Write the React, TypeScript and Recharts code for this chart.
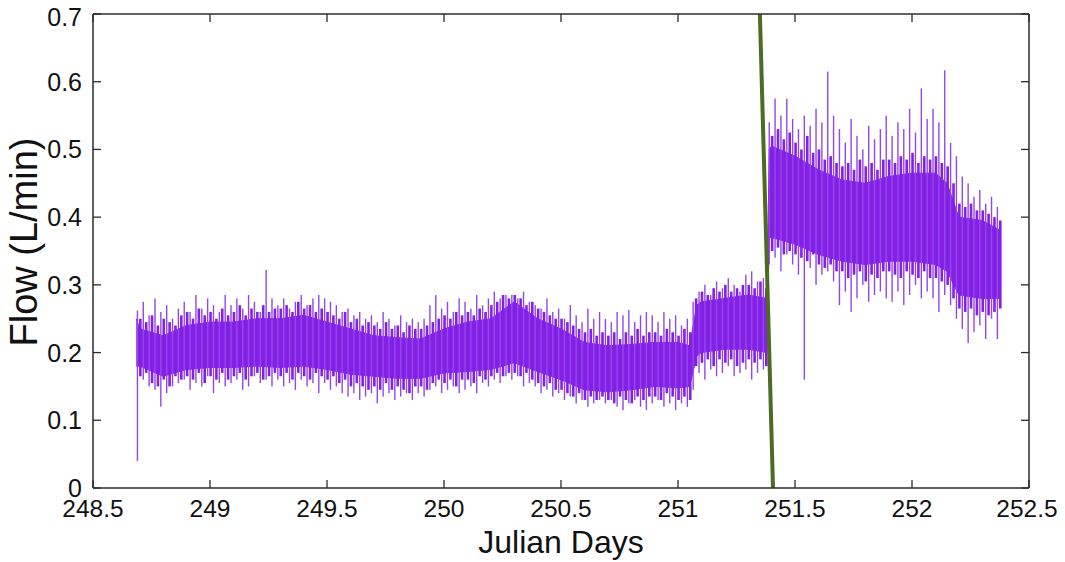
import React from 'react'
import {
  ComposedChart,
  Area,
  Bar,
  XAxis,
  YAxis,
  ReferenceLine,
} from 'recharts'

// x ticks (Julian days) and y ticks (flow, L/min)
const DAY_TICKS = [248.5, 249, 249.5, 250, 250.5, 251, 251.5, 252, 252.5]
const FLOW_TICKS = [0, 0.1, 0.2, 0.3, 0.4, 0.5, 0.6, 0.7]

// dense core band of the flow record
const coreDays = [
  248.685, 248.7, 248.8, 248.9, 249.0, 249.1, 249.2, 249.3, 249.4, 249.5,
  249.6, 249.7, 249.8, 249.9, 250.0, 250.1, 250.2, 250.3, 250.4, 250.5,
  250.6, 250.7, 250.8, 250.9, 251.0, 251.05, 251.08, 251.1, 251.2, 251.3,
  251.38, 251.39, 251.4, 251.5, 251.6, 251.7, 251.8, 251.9, 252.0, 252.1,
  252.15, 252.2, 252.3, 252.38,
]
const coreLow = [
  0.18, 0.18, 0.165, 0.175, 0.178, 0.178, 0.18, 0.178, 0.18, 0.175,
  0.168, 0.165, 0.162, 0.162, 0.17, 0.172, 0.175, 0.185, 0.172, 0.16,
  0.145, 0.142, 0.145, 0.15, 0.148, 0.15, 0.195, 0.2, 0.205, 0.205,
  0.2, 0.37, 0.37, 0.36, 0.345, 0.335, 0.33, 0.335, 0.335, 0.33,
  0.32, 0.285, 0.28, 0.28,
]
const coreHigh = [
  0.25, 0.235, 0.225, 0.24, 0.245, 0.245, 0.25, 0.25, 0.255, 0.245,
  0.235, 0.225, 0.222, 0.22, 0.235, 0.245, 0.25, 0.275, 0.25, 0.235,
  0.215, 0.21, 0.212, 0.215, 0.215, 0.21, 0.27, 0.275, 0.28, 0.285,
  0.28, 0.5, 0.505, 0.49, 0.47, 0.455, 0.45, 0.46, 0.465, 0.465,
  0.45, 0.4, 0.395, 0.38,
]

// tall spikes: min / max of the samples in each 0.025 day slot
const SPIKE_START = 248.69
const SPIKE_STEP = 0.025
const spikeHigh = [
  0.262, 0.275, 0.255, 0.28, 0.26, 0.27, 0.25, 0.265,
  0.275, 0.26, 0.285, 0.265, 0.28, 0.27, 0.26, 0.285,
  0.27, 0.28, 0.265, 0.285, 0.275, 0.26, 0.322, 0.28,
  0.27, 0.28, 0.265, 0.275, 0.285, 0.27, 0.28, 0.285,
  0.28, 0.275, 0.27, 0.26, 0.265, 0.255, 0.26, 0.25,
  0.255, 0.245, 0.26, 0.25, 0.24, 0.255, 0.245, 0.25,
  0.245, 0.25, 0.27, 0.285, 0.265, 0.275, 0.26, 0.28,
  0.275, 0.265, 0.285, 0.27, 0.28, 0.29, 0.28, 0.285,
  0.285, 0.28, 0.29, 0.275, 0.27, 0.265, 0.28, 0.26,
  0.265, 0.25, 0.27, 0.255, 0.245, 0.265, 0.25, 0.26,
  0.25, 0.245, 0.26, 0.255, 0.263, 0.245, 0.255, 0.26,
  0.255, 0.245, 0.26, 0.25, 0.255, 0.24, 0.25, 0.275,
  0.29, 0.3, 0.285, 0.305, 0.295, 0.31, 0.3, 0.29,
  0.315, 0.32, 0.305, 0.31,
  0.54, 0.575, 0.55, 0.575,
  0.545, 0.53, 0.55, 0.535, 0.56, 0.54, 0.615, 0.55,
  0.53, 0.51, 0.545, 0.52, 0.5, 0.535, 0.515, 0.53,
  0.55, 0.52, 0.54, 0.53, 0.56, 0.525, 0.59, 0.545,
  0.56, 0.54, 0.617, 0.51, 0.49, 0.46, 0.45, 0.43,
  0.44, 0.42, 0.43, 0.415,
]
const spikeLow = [
  0.04, 0.16, 0.15, 0.145, 0.12, 0.14, 0.15, 0.155,
  0.16, 0.145, 0.155, 0.15, 0.165, 0.14, 0.155, 0.15,
  0.155, 0.16, 0.145, 0.15, 0.165, 0.155, 0.16, 0.15,
  0.16, 0.15, 0.155, 0.145, 0.16, 0.15, 0.155, 0.14,
  0.155, 0.145, 0.15, 0.14, 0.135, 0.14, 0.13, 0.135,
  0.14, 0.125, 0.135, 0.14, 0.13, 0.135, 0.14, 0.13,
  0.14, 0.135, 0.145, 0.15, 0.14, 0.145, 0.15, 0.14,
  0.145, 0.15, 0.14, 0.155, 0.15, 0.16, 0.155, 0.165,
  0.16, 0.165, 0.15, 0.155, 0.15, 0.14, 0.145, 0.135,
  0.14, 0.13, 0.135, 0.125, 0.13, 0.12, 0.125, 0.13,
  0.125, 0.13, 0.12, 0.115, 0.125, 0.13, 0.12, 0.115,
  0.125, 0.13, 0.12, 0.125, 0.115, 0.125, 0.12, 0.145,
  0.17, 0.16, 0.175, 0.165, 0.17, 0.18, 0.165, 0.17,
  0.175, 0.16, 0.17, 0.175,
  0.33, 0.34, 0.32, 0.345,
  0.33, 0.315, 0.16, 0.325, 0.3, 0.315, 0.32, 0.305,
  0.27, 0.29, 0.26, 0.28, 0.3, 0.275, 0.285, 0.29,
  0.28, 0.275, 0.29, 0.27, 0.285, 0.3, 0.28, 0.29,
  0.28, 0.26, 0.285, 0.27, 0.25, 0.235, 0.214, 0.23,
  0.24, 0.22, 0.25, 0.22,
]

// short ragged excursions just outside the core, between the tall spikes
const EDGE_START = 248.7025
const EDGE_STEP = 0.025
const edgeHigh = [
  0.25, 0.245, 0.255, 0.24, 0.25, 0.245, 0.24, 0.255,
  0.26, 0.25, 0.265, 0.255, 0.26, 0.25, 0.265, 0.255,
  0.26, 0.27, 0.255, 0.265, 0.26, 0.27, 0.26, 0.265,
  0.265, 0.27, 0.26, 0.275, 0.265, 0.27, 0.26, 0.265,
  0.26, 0.255, 0.25, 0.26, 0.245, 0.25, 0.24, 0.245,
  0.24, 0.235, 0.245, 0.235, 0.24, 0.23, 0.24, 0.235,
  0.235, 0.24, 0.245, 0.25, 0.255, 0.25, 0.26, 0.255,
  0.26, 0.255, 0.265, 0.26, 0.27, 0.275, 0.285, 0.28,
  0.285, 0.28, 0.27, 0.275, 0.265, 0.26, 0.255, 0.25,
  0.25, 0.245, 0.24, 0.235, 0.23, 0.235, 0.225, 0.23,
  0.225, 0.23, 0.22, 0.23, 0.225, 0.235, 0.225, 0.23,
  0.23, 0.225, 0.235, 0.23, 0.225, 0.235, 0.23, 0.28,
  0.29, 0.285, 0.295, 0.29, 0.3, 0.29, 0.295, 0.3,
  0.3, 0.295, 0.305, 0.295,
  0.52, 0.53, 0.515, 0.525,
  0.51, 0.5, 0.52, 0.495, 0.5, 0.485, 0.49, 0.48,
  0.475, 0.48, 0.47, 0.485, 0.475, 0.48, 0.47, 0.485,
  0.485, 0.48, 0.49, 0.485, 0.495, 0.48, 0.49, 0.485,
  0.49, 0.48, 0.475, 0.45, 0.42, 0.415, 0.42, 0.41,
  0.41, 0.405, 0.4, 0.395,
]
const edgeLow = [
  0.165, 0.17, 0.155, 0.15, 0.16, 0.15, 0.165, 0.16,
  0.165, 0.16, 0.17, 0.155, 0.165, 0.16, 0.17, 0.16,
  0.165, 0.17, 0.16, 0.165, 0.17, 0.16, 0.165, 0.17,
  0.165, 0.17, 0.16, 0.17, 0.165, 0.16, 0.17, 0.165,
  0.16, 0.165, 0.155, 0.16, 0.15, 0.155, 0.15, 0.145,
  0.15, 0.145, 0.155, 0.145, 0.15, 0.145, 0.14, 0.15,
  0.15, 0.145, 0.155, 0.16, 0.155, 0.16, 0.15, 0.16,
  0.16, 0.155, 0.165, 0.16, 0.165, 0.17, 0.165, 0.17,
  0.17, 0.165, 0.17, 0.16, 0.155, 0.15, 0.155, 0.145,
  0.145, 0.14, 0.135, 0.14, 0.13, 0.135, 0.13, 0.135,
  0.13, 0.125, 0.135, 0.13, 0.125, 0.135, 0.13, 0.135,
  0.135, 0.13, 0.14, 0.135, 0.13, 0.135, 0.13, 0.18,
  0.185, 0.19, 0.18, 0.19, 0.185, 0.19, 0.18, 0.185,
  0.19, 0.185, 0.19, 0.18,
  0.35, 0.355, 0.345, 0.35,
  0.345, 0.34, 0.335, 0.345, 0.33, 0.325, 0.33, 0.32,
  0.32, 0.31, 0.315, 0.32, 0.305, 0.315, 0.31, 0.32,
  0.32, 0.315, 0.31, 0.32, 0.315, 0.31, 0.32, 0.31,
  0.31, 0.305, 0.3, 0.28, 0.265, 0.26, 0.265, 0.255,
  0.26, 0.255, 0.26, 0.265,
]

// the green marker line
const markerDays = [251.35, 251.406]
const markerFlow = [0.7, 0]

const rows = [
  ...coreDays.map((day, i) => ({ day, core: [coreLow[i], coreHigh[i]] })),
  ...spikeHigh.map((hi, i) => ({
    day: +(SPIKE_START + i * SPIKE_STEP).toFixed(4),
    range: [spikeLow[i], hi],
    kind: 'spike',
  })),
  ...edgeHigh.map((hi, i) => ({
    day: +(EDGE_START + i * EDGE_STEP).toFixed(4),
    range: [edgeLow[i], hi],
    kind: 'edge',
  })),
].sort((a, b) => a.day - b.day)

const CHART_W = 1049
const PURPLE = '#8420e6'
const FRAME = '#2b2b2b'
const FONT = '"Liberation Sans", Arial, sans-serif'

// one thin vertical stroke per slot, centred on its day
const NoiseStroke = (props: any) => {
  const { x, y, width, height, payload } = props
  if (x == null || y == null || height == null) return <g />
  const w = payload.kind === 'spike' ? 1.4 : 2.6
  const cx = x + (width || 0) / 2
  const top = Math.min(y, y + height)
  return (
    <rect
      x={cx - w / 2}
      y={top}
      width={w}
      height={Math.abs(height)}
      fill={payload.kind === 'spike' ? '#9248e8' : PURPLE}
    />
  )
}

// keep the last label ("252.5") inside the page
const XTick = ({ x, y, payload }: any) => (
  <text
    x={Math.min(x, CHART_W - 30)}
    y={y + 29}
    textAnchor="middle"
    fontSize={24.5}
    fontFamily={FONT}
    fill="#111"
  >
    {payload.value}
  </text>
)

const YTick = ({ x, y, payload }: any) => (
  <text x={x - 11} y={y} dy="0.36em" textAnchor="end" fontSize={25} fontFamily={FONT} fill="#111">
    {payload.value}
  </text>
)

const NoLabel = () => <g />

const XTitle = ({ viewBox }: any) => (
  <text
    x={viewBox.x + viewBox.width / 2}
    y={545}
    textAnchor="middle"
    fontSize={32}
    fontFamily={FONT}
    fill="#111"
  >
    Julian Days
  </text>
)

const YTitle = ({ viewBox }: any) => {
  const cx = 29
  const cy = viewBox.y + viewBox.height / 2 - 9
  return (
    <text
      x={cx}
      y={cy}
      transform={`rotate(-90, ${cx}, ${cy})`}
      textAnchor="middle"
      fontSize={38}
      fontFamily={FONT}
      fill="#111"
    >
      Flow (L/min)
    </text>
  )
}

export default function App() {
  return (
    <ComposedChart
      width={CHART_W}
      height={554}
      data={rows}
      margin={{ top: 6, right: 28, left: 0, bottom: 14 }}
    >
      <XAxis
        xAxisId="x"
        dataKey="day"
        type="number"
        domain={[248.5, 252.5]}
        ticks={DAY_TICKS}
        allowDataOverflow
        height={60}
        tickSize={0}
        tickMargin={0}
        tickLine={false}
        axisLine={{ stroke: FRAME, strokeWidth: 1.5 }}
        tick={<XTick />}
        label={<XTitle />}
      />
      <XAxis
        xAxisId="xb"
        dataKey="day"
        type="number"
        domain={[248.5, 252.5]}
        ticks={DAY_TICKS}
        allowDataOverflow
        mirror
        tick={NoLabel}
        tickSize={8}
        tickLine={{ stroke: FRAME, strokeWidth: 1.3 }}
        axisLine={false}
      />
      <XAxis
        xAxisId="xt"
        orientation="top"
        dataKey="day"
        type="number"
        domain={[248.5, 252.5]}
        ticks={DAY_TICKS}
        allowDataOverflow
        mirror
        tick={NoLabel}
        tickSize={8}
        tickLine={{ stroke: FRAME, strokeWidth: 1.3 }}
        axisLine={{ stroke: FRAME, strokeWidth: 1.5 }}
      />
      <YAxis
        yAxisId="y"
        type="number"
        domain={[0, 0.7]}
        ticks={FLOW_TICKS}
        allowDataOverflow
        width={85}
        tickSize={0}
        tickMargin={0}
        tickLine={false}
        axisLine={{ stroke: FRAME, strokeWidth: 1.5 }}
        tick={<YTick />}
        label={<YTitle />}
      />
      <YAxis
        yAxisId="yl"
        type="number"
        domain={[0, 0.7]}
        ticks={FLOW_TICKS}
        allowDataOverflow
        mirror
        tick={NoLabel}
        tickSize={8}
        tickLine={{ stroke: FRAME, strokeWidth: 1.3 }}
        axisLine={false}
      />
      <YAxis
        yAxisId="yr"
        orientation="right"
        type="number"
        domain={[0, 0.7]}
        ticks={FLOW_TICKS}
        allowDataOverflow
        mirror
        tick={NoLabel}
        tickSize={8}
        tickLine={{ stroke: FRAME, strokeWidth: 1.3 }}
        axisLine={{ stroke: FRAME, strokeWidth: 1.5 }}
      />
      <Bar
        xAxisId="x"
        yAxisId="y"
        dataKey="range"
        barSize={1}
        shape={NoiseStroke}
        isAnimationActive={false}
      />
      <Area
        xAxisId="x"
        yAxisId="y"
        dataKey="core"
        type="linear"
        connectNulls
        stroke={PURPLE}
        strokeWidth={1}
        fill={PURPLE}
        fillOpacity={1}
        dot={false}
        activeDot={false}
        isAnimationActive={false}
      />
      <ReferenceLine
        xAxisId="x"
        yAxisId="y"
        segment={[
          { x: markerDays[0], y: markerFlow[0] },
          { x: markerDays[1], y: markerFlow[1] },
        ]}
        stroke="#4e6b24"
        strokeWidth={4}
      />
    </ComposedChart>
  )
}
